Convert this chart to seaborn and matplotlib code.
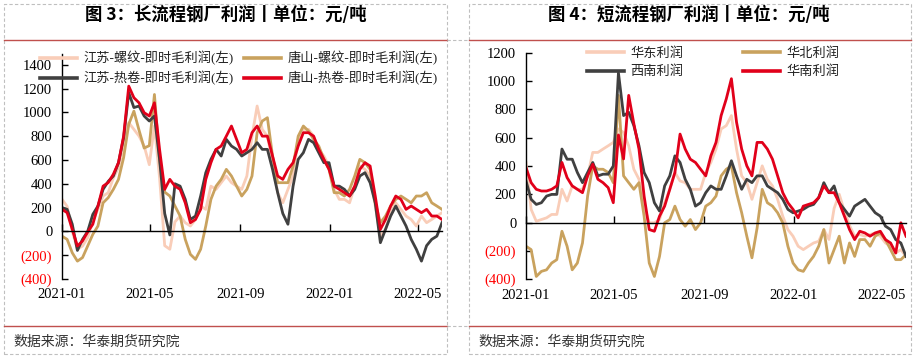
import numpy as np
import pandas as pd
import seaborn as sns
import matplotlib
matplotlib.use('Agg')
import matplotlib.pyplot as plt
import matplotlib.dates as mdates
from matplotlib.patches import Rectangle
from matplotlib.lines import Line2D
from matplotlib.ticker import FuncFormatter

plt.rcParams['font.family'] = ['Liberation Serif', 'Noto Sans CJK SC', 'DejaVu Sans']

# weekly samples, 2021-01-01 .. 2022-06-03
dates = pd.date_range('2021-01-01', periods=75, freq='7D')

# long process (left)
js_rebar = [270, 210, 0, -150, -123, -53, 87, 185, 297, 325, 450, 535, 730, 913, 857, 800, 717, 560, 885, 450,
            -120, -150, 80, 129, 73, 45, 100, 213, 185, 380, 353, 409, 465, 409, 380, 353, 465, 800, 1053, 857,
            800, 577, 325, 240, 353, 465, 773, 857, 857, 800, 689, 633, 549, 353, 269, 269, 240, 380, 549, 521,
            465, 213, -40, 17, 157, 240, 185, 129, 100, 45, 129, 73, 100, 129, 157]
ts_rebar = [-40, -67, -180, -250, -220, -123, -25, 45, 240, 283, 353, 437, 620, 900, 1010, 850, 700, 720, 1150, 600,
            330, 297, 213, 129, -67, -193, -235, -150, 45, 269, 380, 437, 521, 465, 380, 297, 353, 465, 829, 927,
            955, 633, 409, 409, 409, 549, 800, 885, 843, 773, 717, 605, 521, 325, 325, 297, 353, 465, 605, 577,
            521, 240, 73, 129, 213, 269, 297, 269, 240, 297, 297, 325, 240, 213, 185]
js_hrc = [200, 185, 60, -160, -67, 0, 143, 213, 353, 420, 465, 577, 787, 1165, 1040, 1053, 969, 927, 969, 605,
          150, -30, 400, 380, 269, 100, 129, 297, 493, 605, 689, 633, 773, 717, 689, 633, 661, 689, 745, 689,
          689, 521, 325, 150, 60, 380, 605, 661, 773, 745, 661, 577, 577, 380, 380, 353, 297, 353, 465, 493,
          409, 240, -95, 17, 129, 213, 129, 45, -67, -150, -250, -120, -67, -40, 73]
ts_hrc = [185, 157, 17, -123, -80, -5, 60, 213, 380, 410, 480, 577, 800, 1220, 1123, 1080, 997, 969, 1080, 689,
          353, 437, 380, 353, 240, 73, 100, 185, 437, 577, 689, 717, 800, 885, 773, 661, 689, 829, 885, 800,
          800, 633, 465, 437, 521, 577, 717, 829, 829, 800, 689, 605, 521, 380, 353, 325, 297, 380, 521, 577,
          549, 297, 17, 100, 213, 297, 269, 185, 213, 185, 157, 185, 129, 129, 100]

# short process (right)
east = [425, 93, 9, 21, 33, 57, 57, 235, 152, 259, 235, 235, 330, 496, 496, 520, 543, 567, 662, 638,
        543, 377, 306, 116, -2, -2, 21, 140, 235, 354, 294, 282, 235, 235, 235, 354, 425, 520, 662, 686,
        757, 520, 330, 282, 164, 282, 401, 306, 259, 164, 45, -50, -97, -168, -192, -168, -145, -133, -50, -120,
        100, 200, 80, -20, -97, -85, -97, -85, -74, -97, -145, -168, -216, -192, -240]
north = [-168, -192, -382, -346, -335, -287, -263, -62, -168, -335, -287, -145, 187, 401, 377, 377, 354, 282, 900, 330,
         282, 235, 282, 45, -287, -382, -240, -2, 21, 116, 21, -26, 21, -50, -2, 116, 140, 187, 330, 377,
         401, 211, 69, -97, -250, -40, 235, 140, 116, 69, -2, -168, -287, -335, -346, -287, -240, -168, -50, -287,
         -192, -97, -287, -145, -240, -121, -121, -168, -97, -74, -121, -192, -263, -263, -228]
southwest = [294, 164, 128, 140, 187, 199, 199, 520, 448, 448, 354, 282, 354, 425, 330, 342, 342, 400, 1060, 757,
             780, 686, 543, 354, 282, 140, 81, 259, 330, 472, 425, 306, 235, 116, 140, 211, 259, 235, 235, 330,
             437, 330, 235, 306, 282, 330, 330, 259, 235, 211, 164, 93, 69, 81, 93, 116, 128, 176, 282, 211,
             259, 140, 93, 45, 116, 140, 164, 116, 69, 45, -26, -50, -121, -145, -240]
south = [389, 282, 235, 223, 223, 235, 259, 425, 318, 259, 235, 211, 330, 413, 306, 282, 247, 140, 620, 450,
         900, 700, 520, 187, -50, -62, 45, 116, 235, 354, 626, 520, 448, 425, 377, 330, 472, 567, 757, 875,
         1018, 710, 520, 401, 330, 567, 567, 520, 448, 330, 211, 140, 93, 33, 116, 128, 140, 176, 259, 211,
         211, 140, 45, -50, -121, -62, -74, -97, -74, -62, -121, -145, -216, -2, -97]

left_names = ['江苏-螺纹-即时毛利润(左)', '唐山-螺纹-即时毛利润(左)', '江苏-热卷-即时毛利润(左)', '唐山-热卷-即时毛利润(左)']
right_names = ['华东利润', '华北利润', '西南利润', '华南利润']
colors = ['#F9CDB8', '#C9A25E', '#404040', '#E1001A']

W, H = 916, 360


def fx(px):
    return px / W


def fy(py):
    return 1 - py / H


def neg_fmt(v, pos):
    return f'({abs(int(v))})' if v < 0 else f'{int(v)}'


def draw_panel(ax, series, names, ylim, yticks, xpad, leg_anchor, colspacing):
    df = pd.DataFrame({'date': np.tile(dates, 4),
                       'value': np.concatenate(series),
                       'name': np.repeat(names, len(dates))})
    sns.lineplot(data=df, x='date', y='value', hue='name', hue_order=names,
                 palette=colors, linewidth=2.0, ax=ax, legend=False)
    ax.set_xlim(pd.Timestamp('2021-01-01'), pd.Timestamp('2022-06-03'))
    ax.set_ylim(*ylim)
    ax.set_yticks(yticks)
    ax.yaxis.set_major_formatter(FuncFormatter(neg_fmt))
    ax.xaxis.set_major_locator(mdates.MonthLocator(bymonth=[1, 5, 9]))
    ax.xaxis.set_major_formatter(mdates.DateFormatter('%Y-%m'))
    ax.set_xlabel('')
    ax.set_ylabel('')
    ax.set_facecolor('none')
    ax.spines['top'].set_visible(False)
    ax.spines['right'].set_visible(False)
    ax.spines['bottom'].set_position(('data', 0))
    ax.spines['bottom'].set_linewidth(1.0)
    ax.spines['left'].set_linewidth(1.0)
    ax.tick_params(axis='x', direction='in', length=5, width=1, pad=xpad, labelsize=10.5,
                   labelfontfamily='Liberation Serif')
    ax.tick_params(axis='y', direction='in', length=4, width=1, pad=7, labelsize=10.5,
                   labelfontfamily='Liberation Serif')
    for lab, v in zip(ax.get_yticklabels(), yticks):
        if v < 0:
            lab.set_color('#FF0000')
    handles = [Line2D([], [], color=c, lw=2.6) for c in colors]
    order = [0, 2, 1, 3]
    ax.legend([handles[i] for i in order], [names[i] for i in order], ncol=2,
              loc='upper left', bbox_to_anchor=leg_anchor, bbox_transform=ax.figure.transFigure,
              frameon=False, borderpad=0, borderaxespad=0, fontsize=9.5,
              handlelength=2.8, handletextpad=0.5, columnspacing=colspacing, labelspacing=0.45,
              labelcolor='#222222')


fig = plt.figure(figsize=(W / 100, H / 100), dpi=100)

# panel frames, titles, red rules, source line
for x0, x1, title, tx in [(4, 447, '图 3：长流程钢厂利润丨单位：元/吨', 226),
                          (469, 911, '图 4：短流程钢厂利润丨单位：元/吨', 689)]:
    fig.add_artist(Rectangle((fx(x0), fy(354)), fx(x1 - x0), 350 / H, transform=fig.transFigure,
                             fill=False, ec='#BFBFBF', lw=0.8, ls=(0, (3, 2))))
    fig.add_artist(Line2D([fx(x0), fx(x1)], [fy(40), fy(40)], color='#C0504D', lw=1.0))
    fig.add_artist(Line2D([fx(x0), fx(x1)], [fy(326), fy(326)], color='#C0504D', lw=1.0))
    fig.text(fx(tx), fy(15), title, ha='center', va='center', fontsize=12.5, fontweight='bold',
             family=['Noto Sans CJK SC', 'DejaVu Sans'], color='#000000')
    fig.text(fx(x0 + 9), fy(342), '数据来源：华泰期货研究院', ha='left', va='center', fontsize=10,
             family=['Noto Sans CJK SC', 'DejaVu Sans'], color='#333333')
for yy in (40, 326):
    fig.add_artist(Line2D([fx(447), fx(469)], [fy(yy), fy(yy)], color='#BFBFBF', lw=0.8, ls=(0, (3, 2))))

ax1 = fig.add_axes([fx(62), fy(279), fx(380), (279 - 54) / H])
draw_panel(ax1, [js_rebar, ts_rebar, js_hrc, ts_hrc], left_names, (-400, 1490),
           list(range(-400, 1401, 200)), 41, (fx(40), fy(51)), 0.8)

ax2 = fig.add_axes([fx(526), fy(279), fx(380), (279 - 53) / H])
draw_panel(ax2, [east, north, southwest, south], right_names, (-400, 1200),
           list(range(-400, 1201, 200)), 48, (fx(587), fy(47)), 4.5)

fig.savefig('out.png', dpi=100)
